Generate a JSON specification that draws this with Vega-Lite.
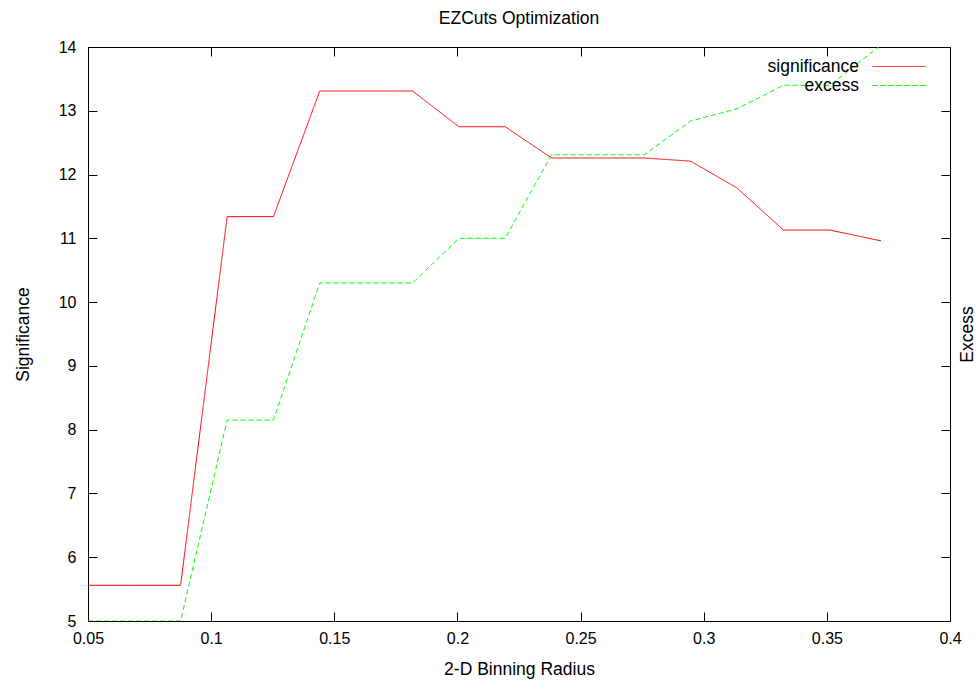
{
  "$schema": "https://vega.github.io/schema/vega-lite/v6.json",
  "width": 862,
  "height": 574,
  "autosize": {"type": "none"},
  "padding": {"left": 88, "top": 47, "right": 28, "bottom": 62},
  "background": "white",
  "config": {
    "font": "Liberation Sans",
    "view": {"stroke": "black", "strokeWidth": 1},
    "axis": {
      "grid": false,
      "domainColor": "black",
      "tickColor": "black",
      "tickSize": -9,
      "labelFont": "Liberation Sans",
      "labelFontSize": 16,
      "labelColor": "black",
      "titleFont": "Liberation Sans",
      "titleFontSize": 17.5,
      "titleFontWeight": "normal",
      "titleColor": "black"
    }
  },
  "title": {
    "text": "EZCuts Optimization",
    "font": "Liberation Sans",
    "fontSize": 17.5,
    "fontWeight": "normal",
    "color": "black",
    "anchor": "middle",
    "offset": 12
  },
  "data": {
    "values": [
      {"radius": 0.05, "value": 5.56, "series": "significance"},
      {"radius": 0.0688, "value": 5.56, "series": "significance"},
      {"radius": 0.0876, "value": 5.56, "series": "significance"},
      {"radius": 0.1065, "value": 11.34, "series": "significance"},
      {"radius": 0.1253, "value": 11.34, "series": "significance"},
      {"radius": 0.1441, "value": 13.31, "series": "significance"},
      {"radius": 0.1629, "value": 13.31, "series": "significance"},
      {"radius": 0.1818, "value": 13.31, "series": "significance"},
      {"radius": 0.2006, "value": 12.75, "series": "significance"},
      {"radius": 0.2194, "value": 12.75, "series": "significance"},
      {"radius": 0.2382, "value": 12.26, "series": "significance"},
      {"radius": 0.2571, "value": 12.26, "series": "significance"},
      {"radius": 0.2759, "value": 12.26, "series": "significance"},
      {"radius": 0.2947, "value": 12.21, "series": "significance"},
      {"radius": 0.3135, "value": 11.79, "series": "significance"},
      {"radius": 0.3324, "value": 11.13, "series": "significance"},
      {"radius": 0.3512, "value": 11.13, "series": "significance"},
      {"radius": 0.372, "value": 10.96, "series": "significance"},
      {"radius": 0.05, "value": 5.0, "series": "excess"},
      {"radius": 0.0688, "value": 5.0, "series": "excess"},
      {"radius": 0.0876, "value": 5.0, "series": "excess"},
      {"radius": 0.1065, "value": 8.15, "series": "excess"},
      {"radius": 0.1253, "value": 8.15, "series": "excess"},
      {"radius": 0.1441, "value": 10.3, "series": "excess"},
      {"radius": 0.1629, "value": 10.3, "series": "excess"},
      {"radius": 0.1818, "value": 10.3, "series": "excess"},
      {"radius": 0.2006, "value": 11.0, "series": "excess"},
      {"radius": 0.2194, "value": 11.0, "series": "excess"},
      {"radius": 0.2382, "value": 12.31, "series": "excess"},
      {"radius": 0.2571, "value": 12.31, "series": "excess"},
      {"radius": 0.2759, "value": 12.31, "series": "excess"},
      {"radius": 0.2947, "value": 12.84, "series": "excess"},
      {"radius": 0.3135, "value": 13.03, "series": "excess"},
      {"radius": 0.3324, "value": 13.4, "series": "excess"},
      {"radius": 0.3512, "value": 13.4, "series": "excess"},
      {"radius": 0.372, "value": 14.03, "series": "excess"}
    ]
  },
  "layer": [
    {
      "mark": {"type": "line", "clip": true, "strokeWidth": 1},
      "encoding": {
        "x": {
          "field": "radius", "type": "quantitative",
          "scale": {"domain": [0.05, 0.4], "nice": false, "zero": false},
          "axis": {"title": "2-D Binning Radius", "values": [0.05, 0.1, 0.15, 0.2, 0.25, 0.3, 0.35, 0.4], "format": "~g", "labelPadding": 18, "titlePadding": 14, "labelFlush": false}
        },
        "y": {
          "field": "value", "type": "quantitative",
          "scale": {"domain": [5, 14], "nice": false, "zero": false},
          "axis": {"title": "Significance", "values": [5, 6, 7, 8, 9, 10, 11, 12, 13, 14], "labelPadding": 21, "titlePadding": 26, "labelFlush": false}
        },
        "color": {
          "field": "series", "type": "nominal",
          "scale": {"domain": ["significance", "excess"], "range": ["#ff0000", "#00ff00"]},
          "legend": {
            "title": null,
            "orient": "none",
            "legendX": 801,
            "legendY": 9.5,
            "symbolType": "M-2.79,0L2.79,0",
            "symbolSize": 361,
            "symbolStrokeWidth": 1,
            "labelAlign": "right",
            "labelOffset": -50,
            "labelFontSize": 17.5,
            "labelFont": "Liberation Sans",
            "labelColor": "black",
            "rowPadding": 0,
            "labelLimit": 300
          }
        },
        "strokeDash": {
          "field": "series", "type": "nominal",
          "scale": {"domain": ["significance", "excess"], "range": [[1, 0], [5, 3]]},
          "legend": null
        }
      }
    },
    {
      "mark": {"type": "line", "opacity": 0},
      "encoding": {
        "x": {
          "field": "radius", "type": "quantitative",
          "scale": {"domain": [0.05, 0.4], "nice": false, "zero": false},
          "axis": {"orient": "top", "title": null, "labels": false, "values": [0.05, 0.1, 0.15, 0.2, 0.25, 0.3, 0.35, 0.4]}
        },
        "y": {
          "field": "value", "type": "quantitative",
          "scale": {"domain": [5, 14], "nice": false, "zero": false},
          "axis": {"orient": "right", "title": "Excess", "titleAngle": 270, "labels": false, "values": [5, 6, 7, 8, 9, 10, 11, 12, 13, 14], "titlePadding": 26}
        }
      }
    }
  ],
  "resolve": {"scale": {"x": "independent", "y": "independent"}, "axis": {"x": "independent", "y": "independent"}}
}
